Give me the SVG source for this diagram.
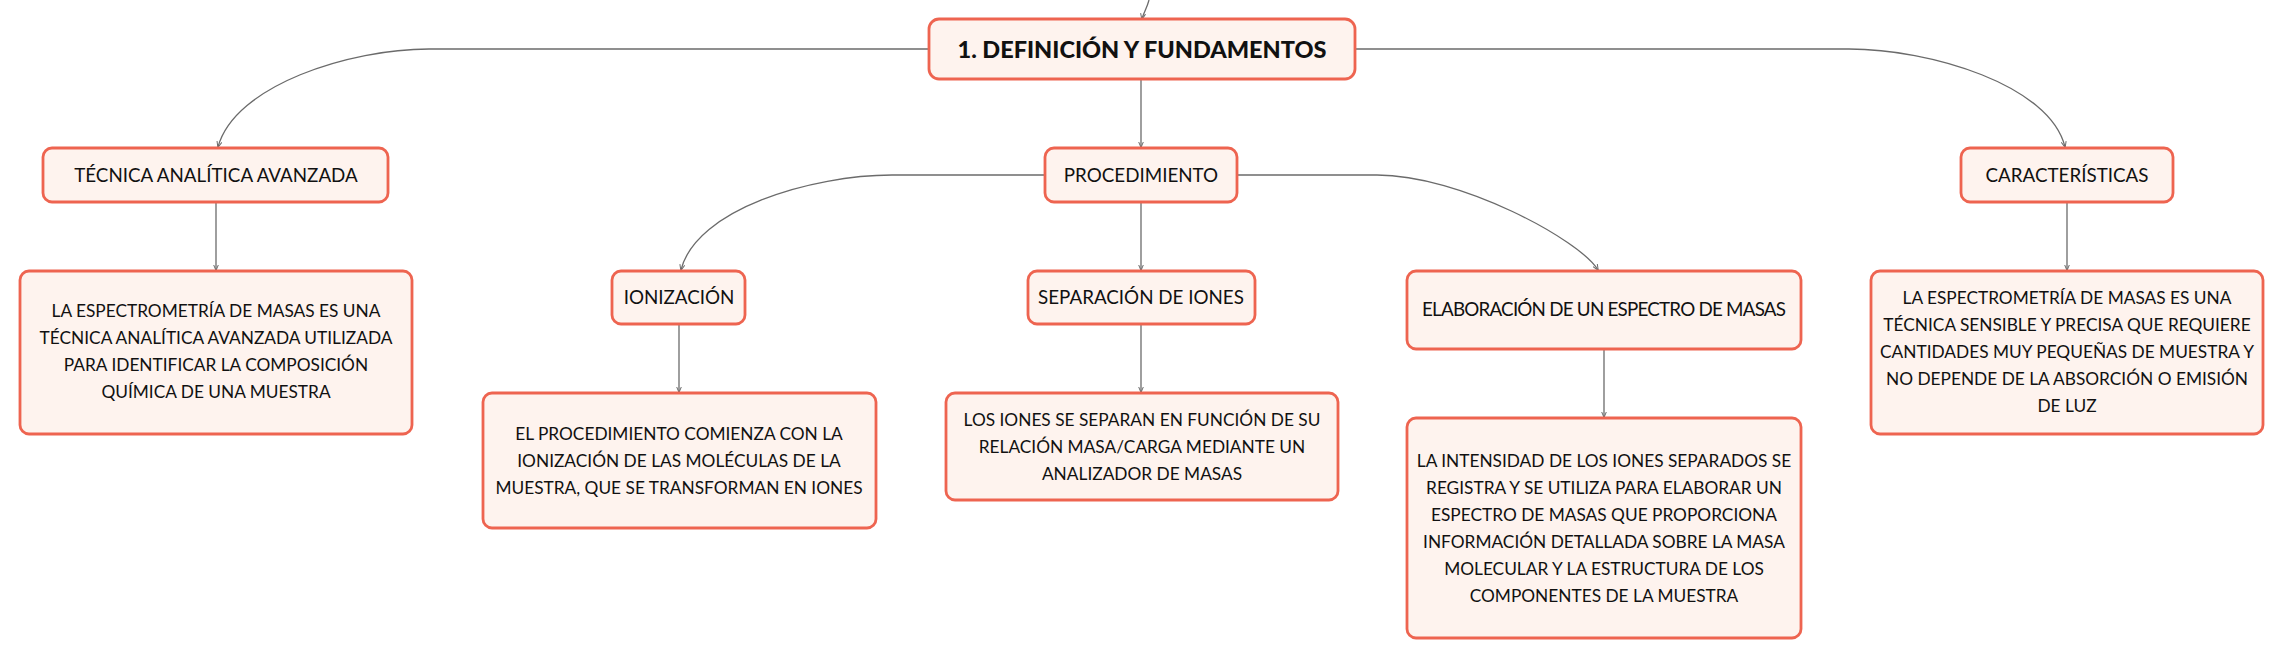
<svg xmlns="http://www.w3.org/2000/svg" width="2284" height="659" viewBox="0 0 2284 659">
<style>
.box{fill:#FEF3EE;stroke:#EE6450;stroke-width:2.8}
.t{font-family:Lato,"Noto Sans","Liberation Sans",sans-serif;fill:#111111;text-anchor:middle}
.n{font-size:18.8px}
.b{font-size:17.3px}
.r{font-size:23.5px;font-weight:900}
.c{fill:none;stroke:#6b6b6b;stroke-width:1.3}
</style>
<defs>
<marker id="ah" viewBox="0 0 6 6" refX="5.5" refY="3" markerWidth="6" markerHeight="6" markerUnits="userSpaceOnUse" orient="auto">
<path d="M0,0.5 L6,3 L0,5.5" fill="none" stroke="#6b6b6b" stroke-width="1"/>
</marker>
</defs>
<rect width="2284" height="659" fill="#ffffff"/>
<g id="connectors">
<path class="c" marker-end="url(#ah)" d="M1149,0 C1147,8 1143,14 1142,19"/>
<path class="c" marker-end="url(#ah)" d="M929,49 L429,49 C350,49 235,85 218,147"/>
<path class="c" marker-end="url(#ah)" d="M1355,49 L1849,49 C1930,49 2050,85 2065,147"/>
<path class="c" marker-end="url(#ah)" d="M1141,79 L1141,147"/>
<path class="c" marker-end="url(#ah)" d="M1045,175 L892,175 C812,175 696,209 681,270"/>
<path class="c" marker-end="url(#ah)" d="M1141,202 L1141,270"/>
<path class="c" marker-end="url(#ah)" d="M1237,175 L1377,175 C1460,175 1580,240 1598,270"/>
<path class="c" marker-end="url(#ah)" d="M216,202 L216,270"/>
<path class="c" marker-end="url(#ah)" d="M679,324 L679,392"/>
<path class="c" marker-end="url(#ah)" d="M1141,324 L1141,392"/>
<path class="c" marker-end="url(#ah)" d="M1604,349 L1604,417"/>
<path class="c" marker-end="url(#ah)" d="M2067,202 L2067,270"/>
</g>
<g id="root">
<rect class="box" x="929" y="19" width="426" height="60" rx="10"/>
<text class="t r" x="1142" y="57.5">1. DEFINICIÓN Y FUNDAMENTOS</text>
</g>
<g id="tecnica">
<rect class="box" x="43" y="148" width="345" height="54" rx="9"/>
<text class="t n" x="216" y="181.5">TÉCNICA ANALÍTICA AVANZADA</text>
</g>
<g id="procedimiento">
<rect class="box" x="1045" y="148" width="192" height="54" rx="9"/>
<text class="t n" x="1141" y="181.5">PROCEDIMIENTO</text>
</g>
<g id="caracteristicas">
<rect class="box" x="1961" y="148" width="212" height="54" rx="9"/>
<text class="t n" x="2067" y="181.5">CARACTERÍSTICAS</text>
</g>
<g id="tecnica-desc">
<rect class="box" x="20" y="271" width="392" height="163" rx="9"/>
<text class="t b" x="216" y="317">LA ESPECTROMETRÍA DE MASAS ES UNA</text>
<text class="t b" x="216" y="344">TÉCNICA ANALÍTICA AVANZADA UTILIZADA</text>
<text class="t b" x="216" y="371">PARA IDENTIFICAR LA COMPOSICIÓN</text>
<text class="t b" x="216" y="398">QUÍMICA DE UNA MUESTRA</text>
</g>
<g id="ionizacion">
<rect class="box" x="612" y="271" width="133" height="53" rx="9"/>
<text class="t n" x="679" y="303.5">IONIZACIÓN</text>
</g>
<g id="separacion">
<rect class="box" x="1028" y="271" width="227" height="53" rx="9"/>
<text class="t n" x="1141" y="303.5">SEPARACIÓN DE IONES</text>
</g>
<g id="elaboracion">
<rect class="box" x="1407" y="271" width="394" height="78" rx="9"/>
<text class="t n" x="1604" y="315.5" textLength="364">ELABORACIÓN DE UN ESPECTRO DE MASAS</text>
</g>
<g id="caracteristicas-desc">
<rect class="box" x="1871" y="271" width="392" height="163" rx="9"/>
<text class="t b" x="2067" y="304">LA ESPECTROMETRÍA DE MASAS ES UNA</text>
<text class="t b" x="2067" y="331">TÉCNICA SENSIBLE Y PRECISA QUE REQUIERE</text>
<text class="t b" x="2067" y="358">CANTIDADES MUY PEQUEÑAS DE MUESTRA Y</text>
<text class="t b" x="2067" y="385">NO DEPENDE DE LA ABSORCIÓN O EMISIÓN</text>
<text class="t b" x="2067" y="412">DE LUZ</text>
</g>
<g id="ionizacion-desc">
<rect class="box" x="483" y="393" width="393" height="135" rx="9"/>
<text class="t b" x="679" y="440">EL PROCEDIMIENTO COMIENZA CON LA</text>
<text class="t b" x="679" y="467">IONIZACIÓN DE LAS MOLÉCULAS DE LA</text>
<text class="t b" x="679" y="494">MUESTRA, QUE SE TRANSFORMAN EN IONES</text>
</g>
<g id="separacion-desc">
<rect class="box" x="946" y="393" width="392" height="107" rx="9"/>
<text class="t b" x="1142" y="426">LOS IONES SE SEPARAN EN FUNCIÓN DE SU</text>
<text class="t b" x="1142" y="453">RELACIÓN MASA/CARGA MEDIANTE UN</text>
<text class="t b" x="1142" y="480">ANALIZADOR DE MASAS</text>
</g>
<g id="elaboracion-desc">
<rect class="box" x="1407" y="418" width="394" height="220" rx="9"/>
<text class="t b" x="1604" y="467">LA INTENSIDAD DE LOS IONES SEPARADOS SE</text>
<text class="t b" x="1604" y="494">REGISTRA Y SE UTILIZA PARA ELABORAR UN</text>
<text class="t b" x="1604" y="521">ESPECTRO DE MASAS QUE PROPORCIONA</text>
<text class="t b" x="1604" y="548">INFORMACIÓN DETALLADA SOBRE LA MASA</text>
<text class="t b" x="1604" y="575">MOLECULAR Y LA ESTRUCTURA DE LOS</text>
<text class="t b" x="1604" y="602">COMPONENTES DE LA MUESTRA</text>
</g>
</svg>
